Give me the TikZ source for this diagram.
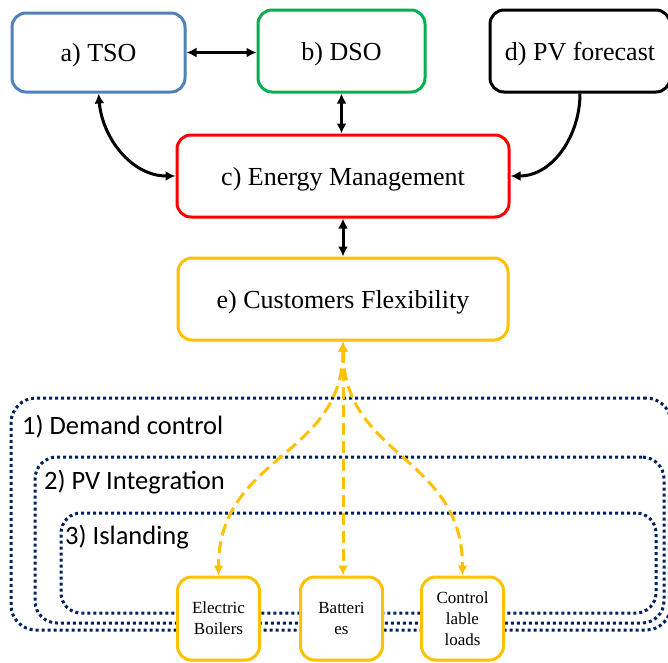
\documentclass[tikz,border=0pt]{standalone}
\usepackage{fontspec}
\setmainfont{Liberation Serif}
\newfontfamily\calib{Carlito}
\usetikzlibrary{arrows.meta}
\definecolor{tsoblue}{HTML}{4F81BD}
\definecolor{dsogreen}{HTML}{00B050}
\definecolor{emred}{HTML}{FF0000}
\definecolor{goldc}{HTML}{FFC000}
\definecolor{navyc}{HTML}{002060}
\begin{document}
\begin{tikzpicture}[x=1pt,y=-1pt,
  mainbox/.style={draw,line width=3pt,rounded corners=14pt,fill=white,inner sep=0pt,
    text depth=0pt,font=\fontsize{26}{30}\selectfont},
  smallbox/.style={draw=goldc,line width=3pt,rounded corners=14pt,fill=white,inner sep=0pt,
    minimum width=82pt,minimum height=83pt,align=center,font=\fontsize{17}{21}\selectfont},
  dotbox/.style={draw=navyc,line width=3pt,dash pattern=on 3pt off 3pt,inner sep=0pt},
  grouplabel/.style={anchor=west,inner sep=0pt,font=\calib\fontsize{26.5}{30}\selectfont},
  blkarrow/.style={black,line width=3pt,{Latex[length=10pt,width=10pt]}-{Latex[length=10pt,width=10pt]}},
  goldarrow/.style={goldc,line width=3pt,dash pattern=on 12pt off 6pt,
    {Latex[length=10pt,width=10pt]}-{Latex[length=10pt,width=10pt]}}
]
\useasboundingbox (0,0) rectangle (668,662);

% group frames
\node[dotbox,rounded corners=25pt,minimum width=660pt,minimum height=232pt] (g1) at (341,514) {};
\node[dotbox,rounded corners=22pt,minimum width=629pt,minimum height=166pt] (g2) at (349.5,540) {};
\node[dotbox,rounded corners=20pt,minimum width=595pt,minimum height=100pt] (g3) at (358.5,563) {};
\node[grouplabel] (l1) at (22,427) {1) Demand control};
\node[grouplabel] (l2) at (44,482) {2) PV Integration};
\node[grouplabel] (l3) at (65,537) {3) Islanding};

% main boxes
\node[mainbox,draw=tsoblue,minimum width=173pt,minimum height=79pt] (tso) at (98.5,52.5) {a) TSO};
\node[mainbox,draw=dsogreen,minimum width=167pt,minimum height=82pt] (dso) at (341.5,51) {b) DSO};
\node[mainbox,draw=black,minimum width=180pt,minimum height=82pt] (pv) at (580,51) {d) PV forecast};
\node[mainbox,draw=emred,minimum width=332pt,minimum height=82pt] (em) at (343,176) {c) Energy Management};
\node[mainbox,draw=goldc,minimum width=330pt,minimum height=82pt] (cf) at (343,299) {e) Customers Flexibility};

% small boxes
\node[smallbox] (eb) at (218.5,618.5) {Electric\\Boilers};
\node[smallbox] (bat) at (341.5,618.5) {Batteri\\es};
\node[smallbox] (ctl) at (462.5,618.5) {Control\\lable\\loads};

% black connectors
\draw[blkarrow] (tso.east) -- (tso.east -| dso.west);
\draw[blkarrow] (dso.south) -- (dso.south |- em.north);
\draw[blkarrow] (tso.south) to[out=-85,in=180] (em.west);
\draw[blkarrow] (em.south) -- (cf.north);
\draw[black,line width=3pt,-{Latex[length=10pt,width=10pt]}] (pv.south) to[out=-90,in=0] (em.east);

% gold dashed connectors
\draw[goldarrow] (cf.south) .. controls +(0,116) and +(0,-120) .. (eb.north);
\draw[goldarrow] (cf.south) -- (cf.south |- bat.north);
\draw[goldarrow] (cf.south) .. controls +(0,116) and +(0,-120) .. (ctl.north);
\end{tikzpicture}
\end{document}
